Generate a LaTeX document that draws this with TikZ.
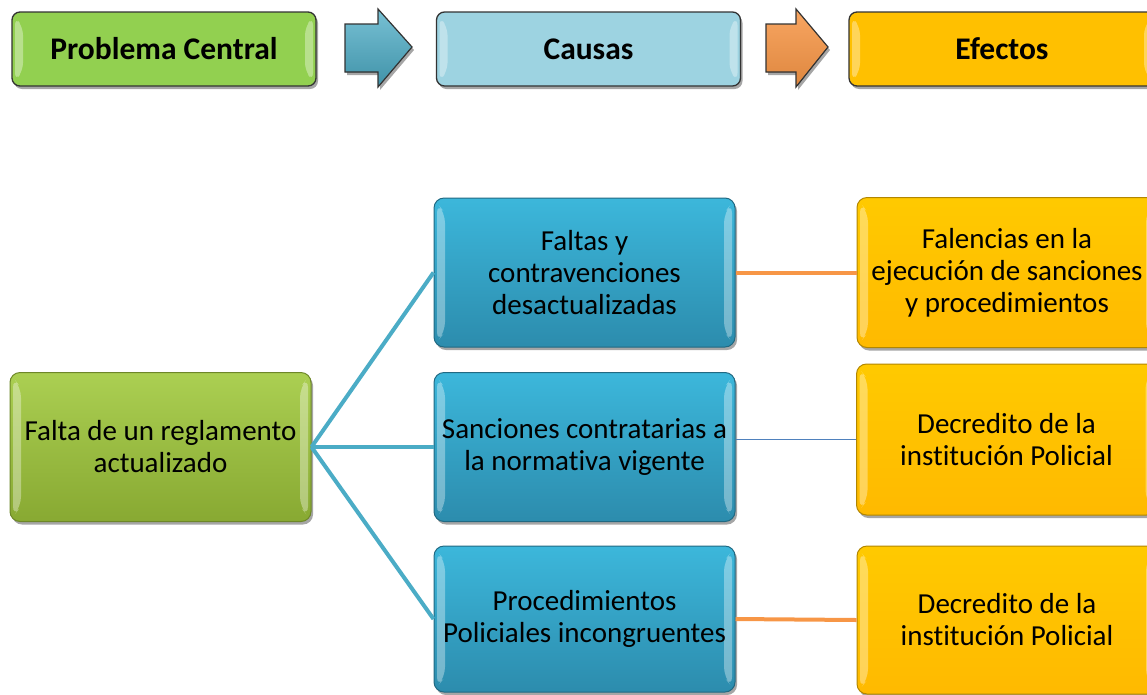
\documentclass[tikz,border=0pt]{standalone}
\usepackage{fontspec}
\setmainfont[Ligatures=NoCommon]{Carlito}
\usetikzlibrary{shadows,calc}

\definecolor{hgreen}{HTML}{92D050}
\definecolor{hblue}{HTML}{9DD3E1}
\definecolor{hyellow}{HTML}{FFC000}
\definecolor{ablue}{HTML}{4BACC6}
\definecolor{aorange}{HTML}{F79646}
\definecolor{lblue}{HTML}{4F81BD}
\definecolor{gtop}{HTML}{ABCF52}
\definecolor{gbot}{HTML}{88A932}
\definecolor{btop}{HTML}{3CB7DB}
\definecolor{bbot}{HTML}{2C8CAD}

\tikzset{
  shadowed/.style={drop shadow={shadow xshift=2pt,shadow yshift=-3pt,opacity=.35,fill=black}},
  bevel/.style={path picture={
      \fill[white,opacity=.35] ($(path picture bounding box.north west)+(3,5)$) -- ++(8,10)
        -- ($(path picture bounding box.south west)+(11,-15)$) -- ++(-8,10) -- cycle;
      \fill[white,opacity=.35] ($(path picture bounding box.north east)+(-3,5)$) -- ++(-8,10)
        -- ($(path picture bounding box.south east)+(-11,-15)$) -- ++(8,10) -- cycle;
  }},
  headbox/.style={rectangle, rounded corners=8pt, minimum width=304pt, minimum height=74pt,
      draw=black!80, line width=1.3pt, font=\bfseries\fontsize{31.5}{36}\selectfont, shadowed, bevel},
  mainbox/.style={rectangle, rounded corners=10pt, minimum width=301pt, minimum height=149pt,
      inner sep=1pt, align=center, font=\fontsize{29}{32}\selectfont, line width=1pt, shadowed, bevel},
  rootbox/.style={mainbox, top color=gtop, bottom color=gbot, draw=gbot!80!black},
  causebox/.style={mainbox, top color=btop, bottom color=bbot, draw=bbot!75!black},
  effectbox/.style={mainbox, top color=hyellow!85!yellow, bottom color=hyellow!90!orange, draw=hyellow!70!black},
  blockarrow/.style={draw=black!80, line width=1.2pt, shadowed},
  branch/.style={ablue, line width=4pt},
  link/.style={aorange, line width=4pt}
}

\begin{document}
\begin{tikzpicture}[x=1pt,y=-1pt]
  \useasboundingbox (0,0) rectangle (1147,694);
  \clip (0,0) rectangle (1147,694);

  % titles
  \node[headbox, fill=hgreen] (hprob) at (164,49) {Problema Central};
  \node[headbox, fill=hblue] (hcaus) at (588.5,49) {Causas};
  \node[headbox, fill=hyellow, minimum width=306pt] (hefec) at (1002,49) {Efectos};

  \filldraw[blockarrow, top color=ablue!75!white, bottom color=ablue!85!black]
    (345,24) -- (378,24) -- (378,9) -- (412,47) -- (378,87) -- (378,72) -- (345,72) -- cycle;
  \filldraw[blockarrow, top color=aorange!85!white, bottom color=aorange!90!black]
    (766,24) -- (796,24) -- (796,9) -- (828,47) -- (796,87) -- (796,72) -- (766,72) -- cycle;

  % tree
  \node[rootbox] (root) at (160.5,447) {Falta de un reglamento\\actualizado};

  \node[causebox] (c1) at (584.5,272.5) {Faltas y\\contravenciones\\desactualizadas};
  \node[causebox] (c2) at (584.5,447) {Sanciones contratarias a\\la normativa vigente};
  \node[causebox, minimum height=146pt] (c3) at (584.5,619) {Procedimientos\\Policiales incongruentes};

  \node[effectbox, minimum width=300pt, minimum height=150pt] (e1) at (1007,272.5)
    {Falencias en la\\ejecución de sanciones\\y procedimientos};
  \node[effectbox, minimum width=300pt, minimum height=151pt] (e2) at (1006.5,439.5)
    {Decredito de la\\institución Policial};
  \node[effectbox, minimum width=300pt, minimum height=148pt] (e3) at (1007,620)
    {Decredito de la\\institución Policial};

  \draw[branch] (root.east) -- (c1.west);
  \draw[branch] (root.east) -- (c2.west);
  \draw[branch] (root.east) -- (c3.west);

  \draw[link] (c1.east) -- (e1.west);
  \draw[lblue, line width=1.5pt] (e2.west -| c2.east) -- (e2.west);
  \draw[link] (c3.east) -- (e3.west);
\end{tikzpicture}
\end{document}
